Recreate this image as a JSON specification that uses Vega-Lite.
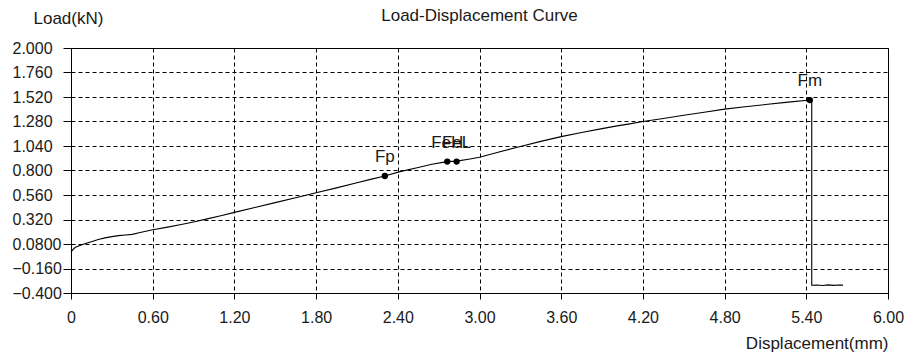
{
  "$schema": "https://vega.github.io/schema/vega-lite/v6.json",
  "width": 817,
  "height": 245,
  "autosize": {"type": "none"},
  "padding": {"left": 71, "top": 48, "right": 22, "bottom": 65},
  "background": "white",
  "config": {
    "font": "Liberation Sans",
    "view": {"stroke": "black", "strokeWidth": 1},
    "axis": {
      "labelFont": "Liberation Sans",
      "labelFontSize": 16,
      "labelColor": "#1a1a1a",
      "titleFont": "Liberation Sans",
      "titleFontSize": 17,
      "titleFontWeight": "normal",
      "titleColor": "#1a1a1a",
      "domainColor": "black",
      "tickColor": "black",
      "grid": true,
      "gridColor": "black",
      "gridOpacity": 1,
      "gridDash": [4, 3],
      "gridWidth": 1
    }
  },
  "title": {
    "text": "Load-Displacement Curve",
    "font": "Liberation Sans",
    "fontSize": 17,
    "fontWeight": "normal",
    "color": "#1a1a1a",
    "anchor": "middle",
    "baseline": "bottom",
    "offset": 0,
    "dy": 33
  },
  "datasets": {
    "curve": [
      {"i": 0, "d": 0.000, "f": 0.000},
      {"i": 1, "d": 0.010, "f": 0.020},
      {"i": 2, "d": 0.030, "f": 0.045},
      {"i": 3, "d": 0.060, "f": 0.063},
      {"i": 4, "d": 0.100, "f": 0.082},
      {"i": 5, "d": 0.150, "f": 0.103},
      {"i": 6, "d": 0.200, "f": 0.124},
      {"i": 7, "d": 0.250, "f": 0.140},
      {"i": 8, "d": 0.300, "f": 0.152},
      {"i": 9, "d": 0.350, "f": 0.162},
      {"i": 10, "d": 0.400, "f": 0.168},
      {"i": 11, "d": 0.450, "f": 0.174},
      {"i": 12, "d": 0.500, "f": 0.190},
      {"i": 13, "d": 0.600, "f": 0.220},
      {"i": 14, "d": 0.700, "f": 0.243},
      {"i": 15, "d": 0.800, "f": 0.268},
      {"i": 16, "d": 0.900, "f": 0.296},
      {"i": 17, "d": 1.000, "f": 0.326},
      {"i": 18, "d": 1.100, "f": 0.357},
      {"i": 19, "d": 1.200, "f": 0.390},
      {"i": 20, "d": 1.350, "f": 0.437},
      {"i": 21, "d": 1.500, "f": 0.485},
      {"i": 22, "d": 1.650, "f": 0.533},
      {"i": 23, "d": 1.800, "f": 0.582},
      {"i": 24, "d": 1.950, "f": 0.630},
      {"i": 25, "d": 2.100, "f": 0.680},
      {"i": 26, "d": 2.200, "f": 0.713},
      {"i": 27, "d": 2.305, "f": 0.746},
      {"i": 28, "d": 2.416, "f": 0.789},
      {"i": 29, "d": 2.550, "f": 0.830},
      {"i": 30, "d": 2.650, "f": 0.862},
      {"i": 31, "d": 2.763, "f": 0.887},
      {"i": 32, "d": 2.832, "f": 0.892},
      {"i": 33, "d": 2.920, "f": 0.911},
      {"i": 34, "d": 3.000, "f": 0.930},
      {"i": 35, "d": 3.150, "f": 0.984},
      {"i": 36, "d": 3.300, "f": 1.035},
      {"i": 37, "d": 3.450, "f": 1.085},
      {"i": 38, "d": 3.600, "f": 1.132},
      {"i": 39, "d": 3.750, "f": 1.172},
      {"i": 40, "d": 3.900, "f": 1.210},
      {"i": 41, "d": 4.000, "f": 1.235},
      {"i": 42, "d": 4.104, "f": 1.257},
      {"i": 43, "d": 4.200, "f": 1.280},
      {"i": 44, "d": 4.350, "f": 1.310},
      {"i": 45, "d": 4.500, "f": 1.341},
      {"i": 46, "d": 4.650, "f": 1.371},
      {"i": 47, "d": 4.800, "f": 1.401},
      {"i": 48, "d": 4.950, "f": 1.424},
      {"i": 49, "d": 5.100, "f": 1.446},
      {"i": 50, "d": 5.250, "f": 1.467},
      {"i": 51, "d": 5.426, "f": 1.490},
      {"i": 52, "d": 5.440, "f": 1.490},
      {"i": 53, "d": 5.440, "f": 1.300},
      {"i": 54, "d": 5.440, "f": -0.324},
      {"i": 55, "d": 5.480, "f": -0.321},
      {"i": 56, "d": 5.520, "f": -0.326},
      {"i": 57, "d": 5.560, "f": -0.320},
      {"i": 58, "d": 5.600, "f": -0.325},
      {"i": 59, "d": 5.640, "f": -0.321},
      {"i": 60, "d": 5.670, "f": -0.323}
    ],
    "markers": [
      {"name": "Fp", "d": 2.305, "f": 0.746},
      {"name": "FeH", "d": 2.763, "f": 0.887},
      {"name": "FeL", "d": 2.832, "f": 0.887},
      {"name": "Fm", "d": 5.426, "f": 1.490}
    ]
  },
  "layer": [
    {
      "data": {"name": "curve"},
      "mark": {"type": "line", "color": "black", "strokeWidth": 1.1, "interpolate": "linear"},
      "encoding": {
        "x": {
          "field": "d",
          "type": "quantitative",
          "scale": {"domain": [0, 6], "nice": false, "zero": false},
          "axis": {
            "values": [0, 0.6, 1.2, 1.8, 2.4, 3.0, 3.6, 4.2, 4.8, 5.4, 6.0],
            "tickCount": 30,
            "labelExpr": "datum.value == 0 ? '0' : format(datum.value, '.2f')",
            "tickSize": 6,
            "labelPadding": 10,
            "labelFlush": false,
            "labelOverlap": false,
            "title": "Displacement(mm)",
            "titleX": 817,
            "titleY": 50,
            "titleAlign": "right",
            "titleAnchor": "end",
            "titleBaseline": "middle"
          }
        },
        "y": {
          "field": "f",
          "type": "quantitative",
          "scale": {"domain": [-0.4, 2.0], "nice": false, "zero": false},
          "axis": {
            "values": [-0.4, -0.16, 0.08, 0.32, 0.56, 0.8, 1.04, 1.28, 1.52, 1.76, 2.0],
            "tickCount": 30,
            "labelExpr": "abs(datum.value - 0.08) < 0.000001 ? '0.0800' : format(datum.value, '.3f')",
            "tickSize": 8,
            "labelAlign": "left",
            "labelPadding": 51,
            "labelFlush": false,
            "labelOverlap": false,
            "title": "Load(kN)",
            "titleAngle": 0,
            "titleX": -38,
            "titleY": -30,
            "titleAlign": "left",
            "titleBaseline": "middle"
          }
        },
        "order": {"field": "i", "type": "quantitative"}
      }
    },
    {
      "data": {"name": "markers"},
      "mark": {"type": "point", "filled": true, "color": "black", "size": 40, "opacity": 1},
      "encoding": {
        "x": {"field": "d", "type": "quantitative"},
        "y": {"field": "f", "type": "quantitative"}
      }
    },
    {
      "data": {"name": "markers"},
      "mark": {"type": "text", "font": "Liberation Sans", "fontSize": 17, "color": "#1a1a1a", "dy": -19, "align": "center", "baseline": "middle"},
      "encoding": {
        "x": {"field": "d", "type": "quantitative"},
        "y": {"field": "f", "type": "quantitative"},
        "text": {"field": "name"}
      }
    }
  ]
}
